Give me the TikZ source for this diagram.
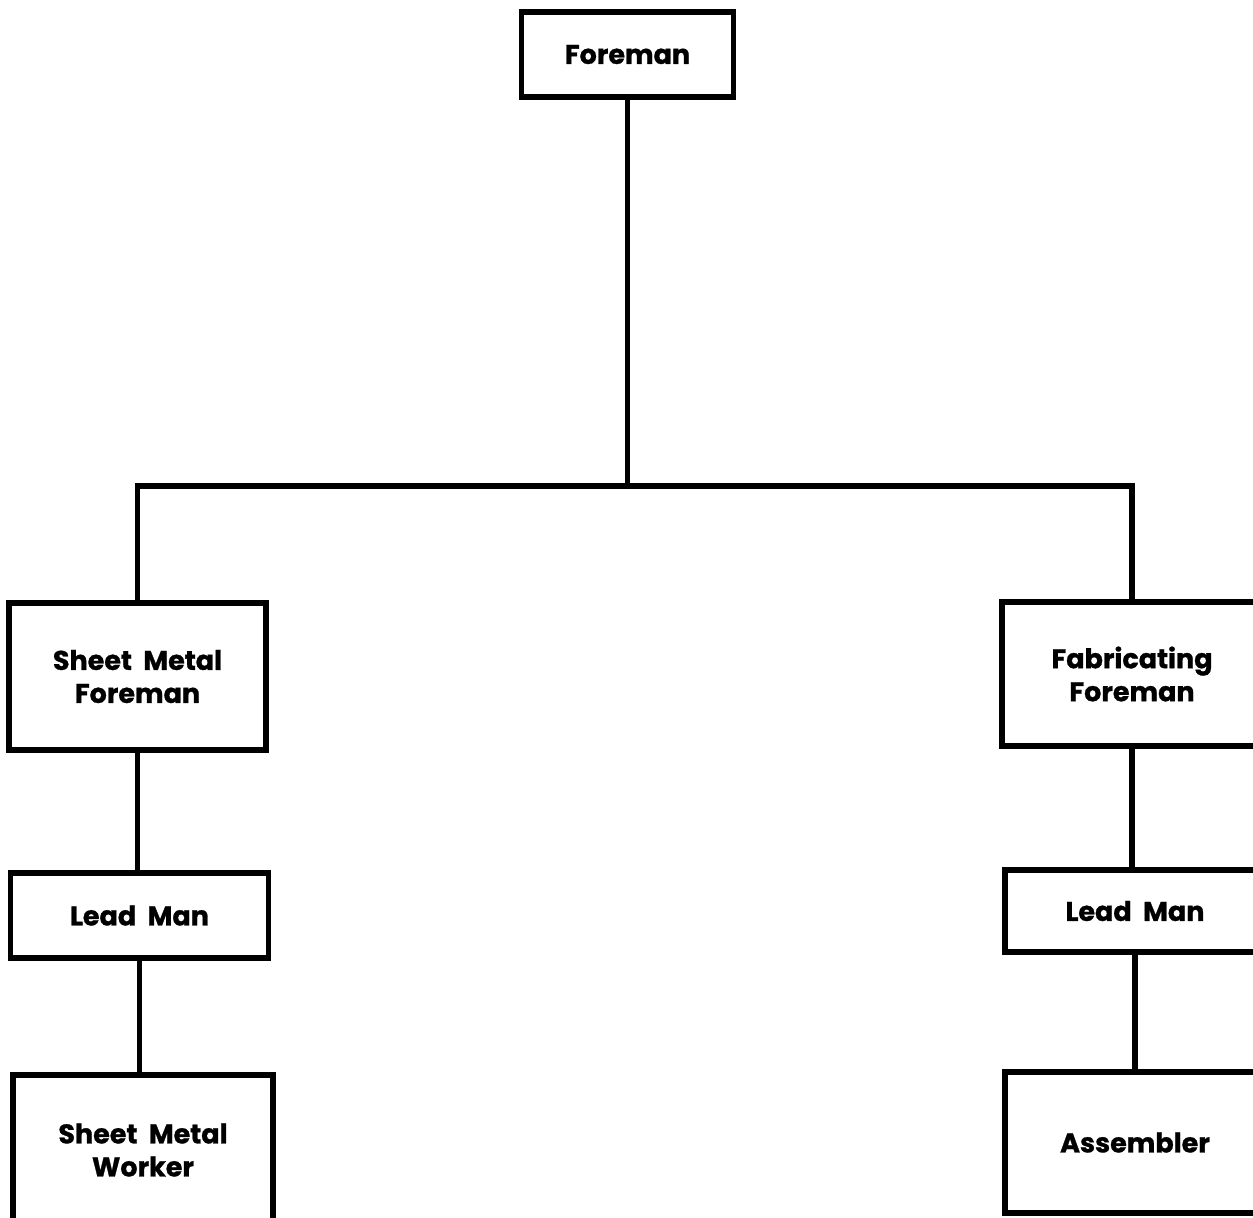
\documentclass[tikz,border=0pt]{standalone}
\usepackage{fontspec}
\setmainfont{Poppins}[BoldFont={* Bold},BoldFeatures={FakeBold=1}]
\begin{document}
\begin{tikzpicture}[x=0.5pt,y=-0.5pt,
  every node/.style={font=\bfseries\fontsize{13.5}{16.5}\selectfont, align=center},
  post/.style={draw, line width=2.6pt, inner sep=0pt, minimum width=#1},
  post/.default=129pt,
  link/.style={line width=2.6pt}]
  \useasboundingbox (0,0) rectangle (1253,1217);
  \clip (0,0) rectangle (1253,1217);
  % top of the chart
  \node[post=106pt, minimum height=42.5pt] (boss) at (627.5,54.5) {Foreman};
  % sheet metal branch
  \node[post=128.5pt, minimum height=73.5pt] (smf) at (137.5,676.5) {Sheet\ \ Metal\\Foreman};
  \node[post=129pt, minimum height=42.5pt] (lml) at (139.5,915.5) {Lead\ \ Man};
  \node[post=130pt, minimum height=75pt] (smw) at (143,1150) {Sheet\ \ Metal\\Worker};
  % fabricating branch
  \node[post=130pt, minimum height=72pt] (fab) at (1132,674) {Fabricating\\Foreman};
  \node[post=130pt, minimum height=41pt] (lmr) at (1135,911) {Lead\ \ Man};
  \node[post=130pt, minimum height=70.5pt] (asm) at (1135,1142.5) {Assembler};
  % connectors
  \coordinate (bus) at (626,486);
  \draw[link] (boss.south) -- (boss.south |- bus);
  \draw[link] (smf.north) |- (bus) -| (fab.north);
  \draw[link] (smf.south) -- (smf.south |- lml.north);
  \draw[link] (lml.south) -- (lml.south |- smw.north);
  \draw[link] (fab.south) -- (fab.south |- lmr.north);
  \draw[link] (lmr.south) -- (lmr.south |- asm.north);
\end{tikzpicture}
\end{document}
